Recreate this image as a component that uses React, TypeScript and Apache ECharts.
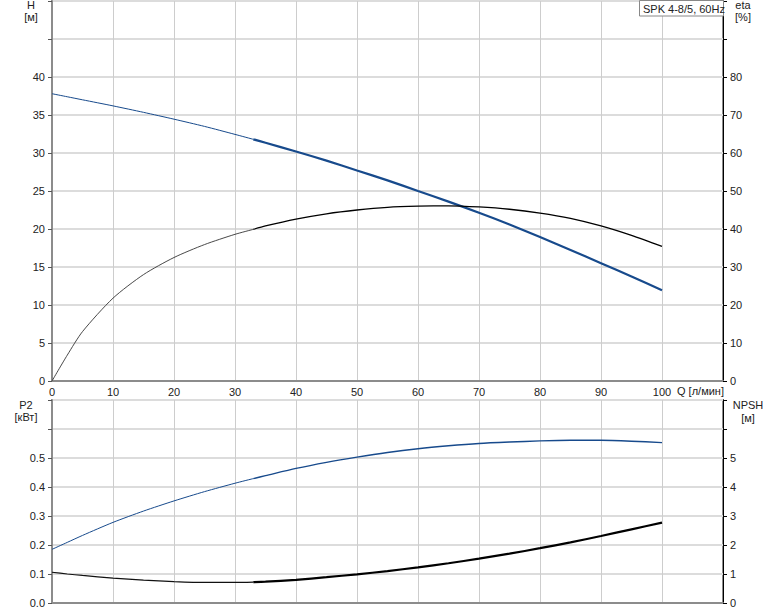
import React, { useEffect, useRef } from "react";
import * as echarts from "echarts";

// Flow rate Q [л/мин]
const qValues = [0, 2.5, 5, 10, 15, 20, 25, 30, 33, 35, 40, 45, 50, 55, 60, 65, 70, 75, 80, 85, 90, 95, 100];
// Head H [м]
const hValues = [37.8, 37.4, 37.0, 36.2, 35.35, 34.45, 33.5, 32.45, 31.8, 31.35, 30.2, 29.0, 27.7, 26.4, 25.0, 23.6, 22.15, 20.6, 18.95, 17.25, 15.5, 13.75, 11.95];
// Efficiency eta [%]
const etaValues = [0, 6.8, 13.0, 21.8, 28.0, 32.5, 35.9, 38.6, 39.9, 40.8, 42.6, 44.0, 45.0, 45.7, 46.0, 46.1, 45.8, 45.2, 44.2, 42.8, 40.8, 38.3, 35.4];
// Power P2 [кВт]
const p2Values = [0.185, 0.209, 0.233, 0.278, 0.317, 0.352, 0.384, 0.413, 0.429, 0.439, 0.464, 0.485, 0.503, 0.519, 0.532, 0.542, 0.55, 0.555, 0.559, 0.561, 0.561, 0.558, 0.553];
// NPSH [м]
const npshValues = [1.06, 1.0, 0.95, 0.86, 0.79, 0.74, 0.71, 0.71, 0.72, 0.735, 0.8, 0.89, 0.99, 1.1, 1.23, 1.37, 1.53, 1.7, 1.89, 2.09, 2.31, 2.54, 2.77];

const splitQ = 33;

const FONT = "'Liberation Sans', Arial, sans-serif";
const TXT = "#222";
const AXIS_GRAY = "#8c8c8c";
const BLUE = "#174a8c";

function pairs(vals: number[], part: "thin" | "thick") {
  const out: number[][] = [];
  qValues.forEach((q, i) => {
    if (part === "thin" ? q <= splitQ : q >= splitQ) out.push([q, vals[i]]);
  });
  return out;
}

export default function App() {
  const ref = useRef<HTMLDivElement>(null);
  useEffect(() => {
    if (!ref.current) return;
    const chart = echarts.init(ref.current, null, { renderer: "svg" });
    const labelStyle = { color: TXT, fontSize: 11, fontFamily: FONT };
    const xSplit = { show: true, lineStyle: { color: "#cdcdcd", width: 1 } };
    const ySplit = { show: true, lineStyle: { color: "#dcdcdc", width: 2 } };
    const leftAxisLine = { show: true, lineStyle: { color: AXIS_GRAY, width: 2 } };
    const rightAxisLine = { show: true, lineStyle: { color: "#000", width: 1 } };

    const line = (name: string, data: number[][], xi: number, yi: number, color: string, width: number) => ({
      name,
      type: "line",
      xAxisIndex: xi,
      yAxisIndex: yi,
      data,
      smooth: 0.25,
      showSymbol: false,
      symbol: "none",
      lineStyle: { color, width },
      z: 5,
    });

    chart.setOption({
      animation: false,
      grid: [
        { left: 52, right: 51, top: 1, height: 380, show: true, borderColor: AXIS_GRAY, borderWidth: 2, backgroundColor: "transparent" },
        { left: 52, right: 51, top: 400, height: 203, show: true, borderColor: AXIS_GRAY, borderWidth: 2, backgroundColor: "transparent" },
      ],
      xAxis: [
        {
          type: "value", gridIndex: 0, min: 0, max: 110, interval: 10,
          axisLine: leftAxisLine, axisTick: { show: false }, splitLine: xSplit,
          axisLabel: { ...labelStyle, margin: 5, formatter: (v: number) => (v > 100 ? "" : String(v)) },
        },
        {
          type: "value", gridIndex: 1, min: 0, max: 110, interval: 10,
          axisLine: leftAxisLine, axisTick: { show: false }, splitLine: xSplit,
          axisLabel: { show: false },
        },
      ],
      yAxis: [
        {
          type: "value", gridIndex: 0, position: "left", min: 0, max: 50, interval: 5,
          axisLine: leftAxisLine, axisTick: { show: true, length: 4, lineStyle: { color: "#555" } }, splitLine: ySplit,
          axisLabel: { ...labelStyle, margin: 7, formatter: (v: number) => (v > 40 ? "" : String(v)) },
        },
        {
          type: "value", gridIndex: 0, position: "right", min: 0, max: 100, interval: 10,
          axisLine: rightAxisLine, axisTick: { show: true, length: 4, lineStyle: { color: "#000" } }, splitLine: { show: false },
          axisLabel: { ...labelStyle, margin: 7, formatter: (v: number) => (v > 80 ? "" : String(v)) },
        },
        {
          type: "value", gridIndex: 1, position: "left", min: 0, max: 0.7, interval: 0.1,
          axisLine: leftAxisLine, axisTick: { show: true, length: 4, lineStyle: { color: "#555" } }, splitLine: ySplit,
          axisLabel: { ...labelStyle, margin: 7, formatter: (v: number) => (v > 0.55 ? "" : v.toFixed(1)) },
        },
        {
          type: "value", gridIndex: 1, position: "right", min: 0, max: 7, interval: 1,
          axisLine: rightAxisLine, axisTick: { show: true, length: 4, lineStyle: { color: "#000" } }, splitLine: { show: false },
          axisLabel: { ...labelStyle, margin: 7, formatter: (v: number) => (v > 5 ? "" : String(v)) },
        },
      ],
      series: [
        line("H", pairs(hValues, "thin"), 0, 0, BLUE, 1),
        line("H", pairs(hValues, "thick"), 0, 0, BLUE, 2.2),
        line("eta", pairs(etaValues, "thin"), 0, 1, "#333", 0.9),
        line("eta", pairs(etaValues, "thick"), 0, 1, "#000", 1.3),
        line("P2", pairs(p2Values, "thin"), 1, 2, BLUE, 1),
        line("P2", pairs(p2Values, "thick"), 1, 2, BLUE, 1.4),
        line("NPSH", pairs(npshValues, "thin"), 1, 3, "#111", 1.2),
        line("NPSH", pairs(npshValues, "thick"), 1, 3, "#000", 2.2),
      ],
      graphic: [
        { type: "text", x: 31, y: 5, style: { text: "H", fill: TXT, font: `11px ${FONT}`, align: "center", verticalAlign: "middle" } },
        { type: "text", x: 31, y: 17, style: { text: "[м]", fill: TXT, font: `11px ${FONT}`, align: "center", verticalAlign: "middle" } },
        { type: "text", x: 743, y: 5, style: { text: "eta", fill: TXT, font: `11px ${FONT}`, align: "center", verticalAlign: "middle" } },
        { type: "text", x: 743, y: 17, style: { text: "[%]", fill: TXT, font: `11px ${FONT}`, align: "center", verticalAlign: "middle" } },
        { type: "text", x: 26, y: 405, style: { text: "P2", fill: TXT, font: `11px ${FONT}`, align: "center", verticalAlign: "middle" } },
        { type: "text", x: 26, y: 417, style: { text: "[кВт]", fill: TXT, font: `11px ${FONT}`, align: "center", verticalAlign: "middle" } },
        { type: "text", x: 748, y: 405, style: { text: "NPSH", fill: TXT, font: `11px ${FONT}`, align: "center", verticalAlign: "middle" } },
        { type: "text", x: 748, y: 418, style: { text: "[м]", fill: TXT, font: `11px ${FONT}`, align: "center", verticalAlign: "middle" } },
        { type: "text", x: 677, y: 391, style: { text: "Q [л/мин]", fill: TXT, font: `11px ${FONT}`, align: "left", verticalAlign: "middle" } },
        { type: "rect", shape: { x: 639.5, y: 0.5, width: 84, height: 15.5 }, style: { fill: "#fff", stroke: "#888", lineWidth: 1 }, z: 10 },
        { type: "text", x: 643, y: 8.5, z: 11, style: { text: "SPK 4-8/5, 60Hz", fill: TXT, font: `11px ${FONT}`, align: "left", verticalAlign: "middle" } },
      ],
    });
    return () => chart.dispose();
  }, []);
  return <div ref={ref} style={{ position: "absolute", left: 0, top: 0, width: 774, height: 611, background: "#fff" }} />;
}
